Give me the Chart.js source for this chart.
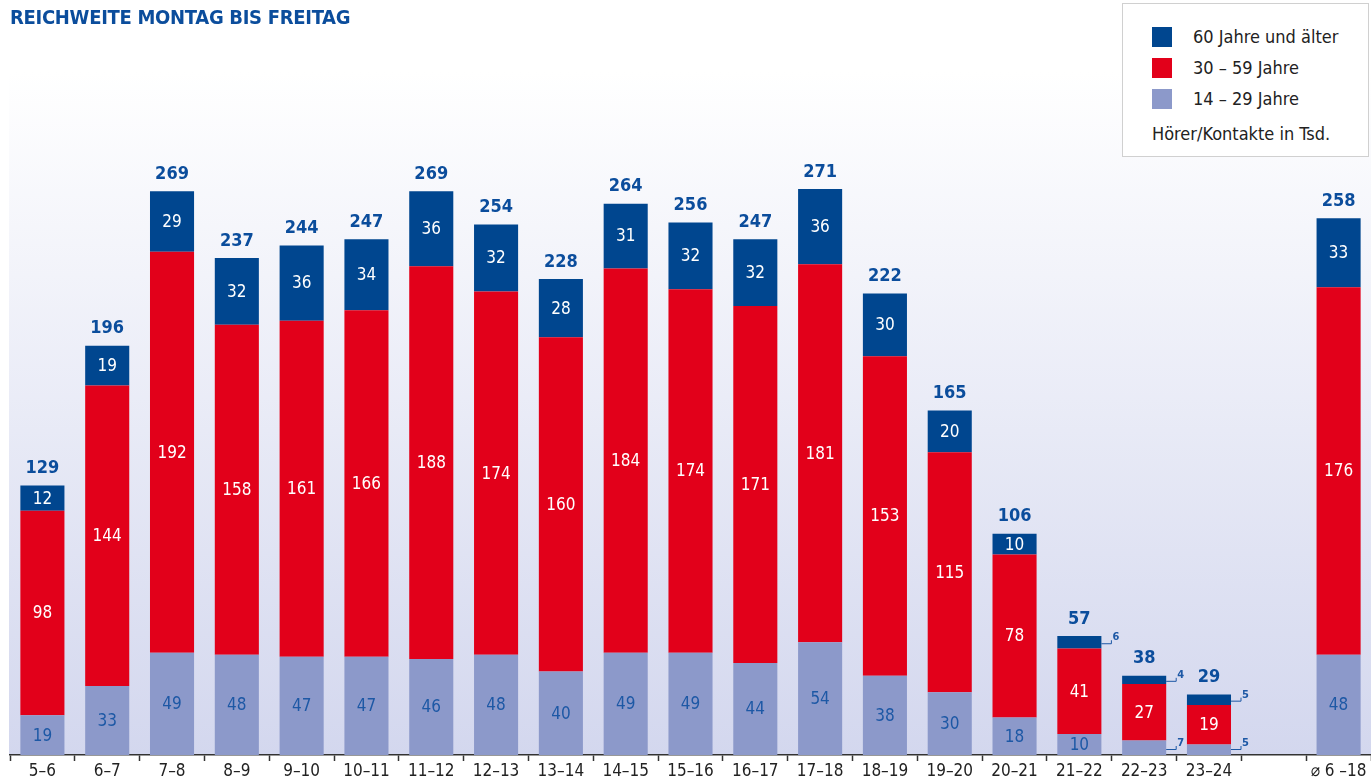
<!DOCTYPE html>
<html>
<head>
<meta charset="utf-8">
<script src="https://cdn.jsdelivr.net/npm/chart.js@4.4.1/dist/chart.umd.min.js"></script>
<style>
  html, body { margin: 0; padding: 0; background: #fff; }
  #wrap { position: relative; width: 1371px; height: 782px; }
  #title {
    position: absolute; left: 10px; top: 5px;
    font-family: "Liberation Sans Narrow", "DejaVu Sans Condensed", Roboto, sans-serif;
    font-weight: bold; font-size: 20px; color: #0b4d9c; letter-spacing: -0.3px;
  }
  #legendBox {
    position: absolute; left: 1122px; top: 3px; width: 247px; height: 154px;
    border: 1px solid #d0d0d0; background: #fff; box-sizing: border-box;
    font-family: "Liberation Sans Narrow", "DejaVu Sans Condensed", Roboto, sans-serif;
    font-size: 18px; color: #222;
  }
  .row { position: absolute; left: 29px; height: 22px; line-height: 22px; }
  .sw { position: absolute; left: 0; top: 1px; width: 20px; height: 20px; }
  .lbl { position: absolute; left: 41px; top: 0; white-space: nowrap; }
  #note { position: absolute; left: 29px; top: 119px; white-space: nowrap; }
</style>
</head>
<body>
<div id="wrap">
  <canvas id="chart" width="1371" height="782"></canvas>
  <div id="title">REICHWEITE MONTAG BIS FREITAG</div>
  <div id="legendBox"></div>
</div>
<script>
// categories (empty slot = gap before the average)
const categories = ['5–6','6–7','7–8','8–9','9–10','10–11','11–12','12–13','13–14','14–15',
  '15–16','16–17','17–18','18–19','19–20','20–21','21–22','22–23','23–24','','⌀ 6 –18'];

// listeners in thousands
const age14to29 = [19,33,49,48,47,47,46,48,40,49,49,44,54,38,30,18,10,7,5,null,48];
const age30to59 = [98,144,192,158,161,166,188,174,160,184,174,171,181,153,115,78,41,27,19,null,176];
const age60plus = [12,19,29,32,36,34,36,32,28,31,32,32,36,30,20,10,6,4,5,null,33];
const totals    = [129,196,269,237,244,247,269,254,228,264,256,247,271,222,165,106,57,38,29,null,258];

const seriesNames = ['14 – 29 Jahre', '30 – 59 Jahre', '60 Jahre und älter'];
const colors = ['#8c99ca', '#e2001a', '#00468f'];
const labelColors = ['#1d58a5', '#ffffff', '#ffffff'];

const FONT = '"Liberation Sans Narrow", "DejaVu Sans Condensed", Roboto, sans-serif';

// legend (HTML), top to bottom: 60+, 30-59, 14-29
const legendBox = document.getElementById('legendBox');
[2, 1, 0].forEach((si, i) => {
  const row = document.createElement('div');
  row.className = 'row';
  row.style.top = (22 + i * 31) + 'px';
  row.innerHTML = '<div class="sw" style="background:' + colors[si] + '"></div><div class="lbl">' + seriesNames[si] + '</div>';
  legendBox.appendChild(row);
});
const note = document.createElement('div');
note.id = 'note';
note.textContent = 'Hörer/Kontakte in Tsd.';
legendBox.appendChild(note);

// plot background gradient
const bgPlugin = {
  id: 'bg',
  beforeDraw(chart) {
    const { ctx, chartArea } = chart;
    const top = 72, bottom = chartArea.bottom;
    const g = ctx.createLinearGradient(0, top, 0, bottom);
    g.addColorStop(0, '#ffffff');
    g.addColorStop(1, '#d3d7ee');
    ctx.save();
    ctx.fillStyle = g;
    ctx.fillRect(chartArea.left - 1, top, chartArea.right - chartArea.left + 1, bottom - top);
    ctx.restore();
  }
};

// value labels inside segments, small ones outside with a bracket, totals on top
const labelPlugin = {
  id: 'vals',
  afterDatasetsDraw(chart) {
    const ctx = chart.ctx;
    ctx.save();
    ctx.textAlign = 'center';
    ctx.textBaseline = 'middle';
    chart.data.datasets.forEach((ds, di) => {
      const meta = chart.getDatasetMeta(di);
      meta.data.forEach((bar, i) => {
        const v = ds.data[i];
        if (v == null) return;
        const h = Math.abs(bar.base - bar.y);
        const cy = (bar.y + bar.base) / 2;
        if (h >= 16) {
          ctx.font = '17px ' + FONT;
          ctx.fillStyle = labelColors[di];
          ctx.fillText(String(v), bar.x, cy + 1);
        } else {
          const rx = bar.x + bar.width / 2;
          const ly = di === 0 ? bar.base - 6 : cy + 1;
          ctx.strokeStyle = '#1d58a5';
          ctx.lineWidth = 1;
          ctx.beginPath();
          ctx.moveTo(rx, ly + 0.5);
          ctx.lineTo(rx + 10, ly + 0.5);
          ctx.lineTo(rx + 10, ly - 3);
          ctx.stroke();
          ctx.font = 'bold 11px ' + FONT;
          ctx.fillStyle = '#1d58a5';
          ctx.textAlign = 'left';
          ctx.fillText(String(v), rx + 11, ly - 6);
          ctx.textAlign = 'center';
        }
      });
    });
    // totals
    const topMeta = chart.getDatasetMeta(2);
    ctx.font = 'bold 18px ' + FONT;
    ctx.fillStyle = '#0b4d9c';
    topMeta.data.forEach((bar, i) => {
      if (totals[i] == null) return;
      ctx.fillText(String(totals[i]), bar.x, bar.y - 17);
    });
    ctx.restore();
  }
};

const datasets = [age14to29, age30to59, age60plus].map((d, i) => ({
  label: seriesNames[i],
  data: d,
  backgroundColor: colors[i],
  borderWidth: 0,
  barPercentage: 0.68,
  categoryPercentage: 1.0,
}));

new Chart(document.getElementById('chart'), {
  type: 'bar',
  data: { labels: categories, datasets: datasets },
  options: {
    responsive: false,
    animation: false,
    layout: { padding: { left: 10, right: 0, top: 45, bottom: 0 } },
    plugins: {
      legend: { display: false },
      tooltip: { enabled: false },
      title: { display: false },
    },
    scales: {
      x: {
        stacked: true,
        grid: { display: true, drawOnChartArea: false, offset: true, color: '#333', tickLength: 6, tickWidth: 1.5 },
        border: { display: true, color: '#333', width: 1.5 },
        ticks: { color: '#222', font: { family: FONT, size: 17, lineHeight: 1.0 }, padding: 2, maxRotation: 0, autoSkip: false },
      },
      y: {
        stacked: true,
        display: false,
        min: 0,
        max: 340,
      },
    },
  },
  plugins: [bgPlugin, labelPlugin],
});
</script>
</body>
</html>
